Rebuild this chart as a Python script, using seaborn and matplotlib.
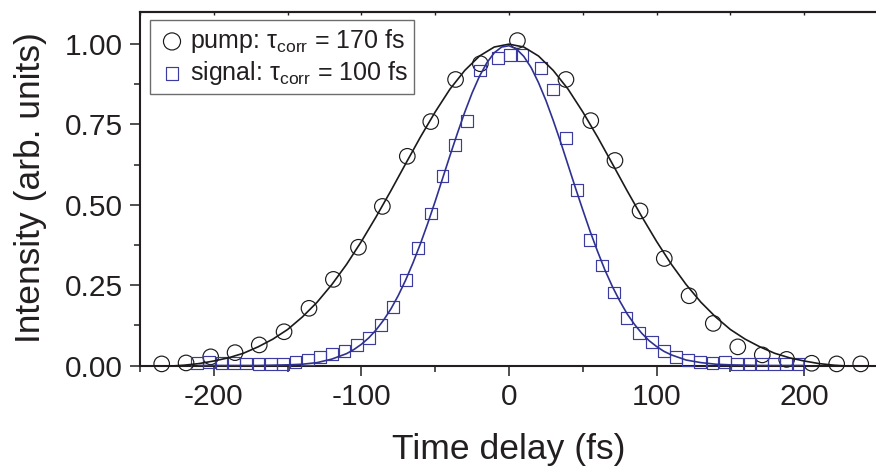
import numpy as np
import pandas as pd
import matplotlib
matplotlib.use("Agg")
import matplotlib.pyplot as plt
from matplotlib.ticker import MultipleLocator, FormatStrFormatter
import seaborn as sns

# ---------------- data ----------------
pump_t = [-235.3, -218.8, -202.1, -185.6, -169.2, -152.4, -135.5, -119.0, -102.0,
          -85.8, -68.9, -53.0, -36.2, -19.4, 5.7, 38.6, 55.4, 71.8, 88.8, 105.2,
          122.0, 138.4, 155.0, 171.6, 188.1, 205.1, 222.0, 238.3]
pump_i = [0.005, 0.008, 0.027, 0.040, 0.064, 0.105, 0.178, 0.268, 0.368,
          0.495, 0.651, 0.759, 0.890, 0.939, 1.011, 0.890, 0.762, 0.638, 0.481, 0.333,
          0.217, 0.131, 0.058, 0.033, 0.019, 0.007, 0.005, 0.005]

signal_t = [-211.6, -203.2, -194.8, -186.5, -178.1, -169.7, -161.3, -153.0, -144.6,
            -136.2, -128.0, -119.7, -111.5, -103.0, -94.9, -86.9, -78.4, -70.0,
            -61.4, -53.0, -45.0, -36.6, -28.2, -19.6, -7.2, 0.9, 9.1, 21.8, 30.0,
            38.4, 46.3, 54.9, 63.2, 71.3, 79.6, 88.3, 96.7, 104.8, 113.3, 121.5,
            129.6, 137.9, 146.3, 154.7, 163.0, 171.2, 179.5, 187.8, 196.2]
signal_i = [0.008, 0.010, 0.008, 0.008, 0.006, 0.004, 0.005, 0.005, 0.012,
            0.019, 0.027, 0.036, 0.046, 0.063, 0.086, 0.126, 0.181, 0.266,
            0.365, 0.473, 0.590, 0.685, 0.762, 0.918, 0.956, 0.965, 0.965, 0.925, 0.859,
            0.709, 0.545, 0.390, 0.311, 0.227, 0.148, 0.102, 0.074, 0.045, 0.027, 0.017,
            0.012, 0.007, 0.012, 0.004, 0.005, 0.005, 0.005, 0.005, 0.005]

# fitted curves
pump_fit_t = [-250, -240, -230, -220, -210, -200, -190, -180, -170, -160, -150,
              -140, -130, -120, -110, -100, -90, -80, -70, -60, -50, -40, -30,
              -20, -10, 0, 10, 20, 30, 40, 50, 60, 70, 80, 90, 100, 110, 120,
              130, 140, 150, 160, 170, 180, 190, 200, 210, 220, 230, 240, 250]
pump_fit_i = [-0.004, -0.003, -0.002, 0.001, 0.006, 0.014, 0.024, 0.038, 0.058, 0.082, 0.112,
              0.151, 0.197, 0.252, 0.315, 0.386, 0.463, 0.544, 0.628, 0.711, 0.789, 0.860, 0.918,
              0.963, 0.991, 1.000, 0.991, 0.963, 0.918, 0.860, 0.789, 0.711, 0.628, 0.544, 0.463,
              0.386, 0.315, 0.252, 0.197, 0.151, 0.112, 0.082, 0.058, 0.038, 0.024, 0.014,
              0.006, 0.001, -0.002, -0.003, -0.004]

signal_fit_t = [-210, -200, -190, -180, -170, -160, -150, -140, -130, -120, -110,
                -105, -100, -95, -90, -85, -80, -75, -70, -65, -60, -55, -50, -45,
                -40, -35, -30, -25, -20, -15, -10, -5, 0, 5, 10, 15, 20, 25, 30, 35,
                40, 45, 50, 55, 60, 65, 70, 75, 80, 85, 90, 95, 100, 105, 110, 120,
                130, 140, 150, 160, 170, 180, 190, 200]
signal_fit_i = [0.000, 0.000, 0.000, 0.000, 0.000, 0.001, 0.002, 0.004, 0.009, 0.020, 0.037,
                0.050, 0.066, 0.086, 0.111, 0.141, 0.176, 0.218, 0.266, 0.320, 0.379, 0.443,
                0.511, 0.582, 0.653, 0.722, 0.788, 0.848, 0.900, 0.942, 0.973, 0.991, 0.995,
                0.985, 0.962, 0.927, 0.880, 0.825, 0.762, 0.695, 0.624, 0.553, 0.484, 0.417,
                0.355, 0.297, 0.246, 0.201, 0.161, 0.128, 0.100, 0.077, 0.059, 0.044, 0.033,
                0.017, 0.009, 0.004, 0.002, 0.001, 0.000, 0.000, 0.000, 0.000]

pump_label = "pump: τ$_{\\rm corr}$ = 170 fs"
signal_label = "signal: τ$_{\\rm corr}$ = 100 fs"
x_label = "Time delay (fs)"
y_label = "Intensity (arb. units)"

# ---------------- styling ----------------
sns.set_style("ticks")
plt.rcParams["font.family"] = ["Liberation Sans", "DejaVu Sans"]
plt.rcParams["mathtext.fontset"] = "custom"
plt.rcParams["mathtext.rm"] = "Liberation Sans"
plt.rcParams["mathtext.it"] = "Liberation Sans:italic"
plt.rcParams["mathtext.bf"] = "Liberation Sans:bold"
plt.rcParams["axes.unicode_minus"] = False

TXT = "#231f20"
BLUE = "#2e3192"
SQ = "#3b3ba0"

fig = plt.figure(figsize=(8.76, 4.69), dpi=100)
W, H = 876, 469
ax_l, ax_r, ax_t, ax_b = 140, 878, 12, 365.5
ax = fig.add_axes([ax_l / W, (H - ax_b) / H, (ax_r - ax_l) / W, (ax_b - ax_t) / H])

pump_df = pd.DataFrame({"t": pump_t, "I": pump_i})
signal_df = pd.DataFrame({"t": signal_t, "I": signal_i})
pfit_df = pd.DataFrame({"t": pump_fit_t, "I": pump_fit_i})
sfit_df = pd.DataFrame({"t": signal_fit_t, "I": signal_fit_i})

sns.scatterplot(data=pump_df, x="t", y="I", ax=ax, marker="o", s=125,
                facecolors="none", edgecolor="#1a1a1a", linewidth=0.85,
                label=pump_label, clip_on=False, zorder=3)
sns.scatterplot(data=signal_df, x="t", y="I", ax=ax, marker="s", s=72,
                facecolors="none", edgecolor=SQ, linewidth=0.85,
                label=signal_label, clip_on=False, zorder=3)
sns.lineplot(data=pfit_df, x="t", y="I", ax=ax, color="#1a1a1a", linewidth=1.2,
             zorder=4, legend=False)
sns.lineplot(data=sfit_df, x="t", y="I", ax=ax, color=BLUE, linewidth=1.2,
             zorder=4, legend=False)

ax.set_xlim(-250, 250)
ax.set_ylim(0, 1.1)
ax.xaxis.set_major_locator(MultipleLocator(100))
ax.xaxis.set_minor_locator(MultipleLocator(50))
ax.yaxis.set_major_locator(MultipleLocator(0.25))
ax.yaxis.set_minor_locator(MultipleLocator(0.125))
ax.yaxis.set_major_formatter(FormatStrFormatter("%.2f"))

for sp in ax.spines.values():
    sp.set_linewidth(1.5)
    sp.set_color(TXT)

ax.tick_params(axis="both", which="major", direction="out", length=7.5, width=1.1,
               colors=TXT, labelsize=21.5, pad=5)
ax.tick_params(axis="both", which="minor", direction="out", length=4.5, width=1.1,
               colors=TXT)
ax.tick_params(axis="x", which="both", top=False)

sec = ax.secondary_xaxis("top")
sec.set_xticks([-250, -200, -150, -100, -50, 0, 50, 100, 150, 200, 250])
sec.tick_params(direction="in", length=2.5, width=1.0, labeltop=False, colors=TXT)
sec.spines["top"].set_linewidth(1.5)
sec.spines["top"].set_color(TXT)

ax.set_xlabel(x_label, fontsize=25.5, color=TXT)
ax.set_ylabel(y_label, fontsize=25.5, color=TXT)
ax.xaxis.set_label_coords(0.5, -0.19)
ax.yaxis.set_label_coords(-0.126, 0.502)

leg = ax.legend(loc="upper left", bbox_to_anchor=((150 - ax_l) / (ax_r - ax_l), (ax_b - 20) / (ax_b - ax_t)),
                borderaxespad=0, frameon=True, fancybox=False, framealpha=1,
                fontsize=18, handletextpad=0.1, handlelength=1.2, markerscale=1.1,
                labelspacing=0.16, borderpad=0.28)
leg.get_frame().set_edgecolor("#6d6d6d")
leg.get_frame().set_linewidth(1.0)
for t in leg.get_texts():
    t.set_color(TXT)

fig.savefig("out.png", dpi=100)
